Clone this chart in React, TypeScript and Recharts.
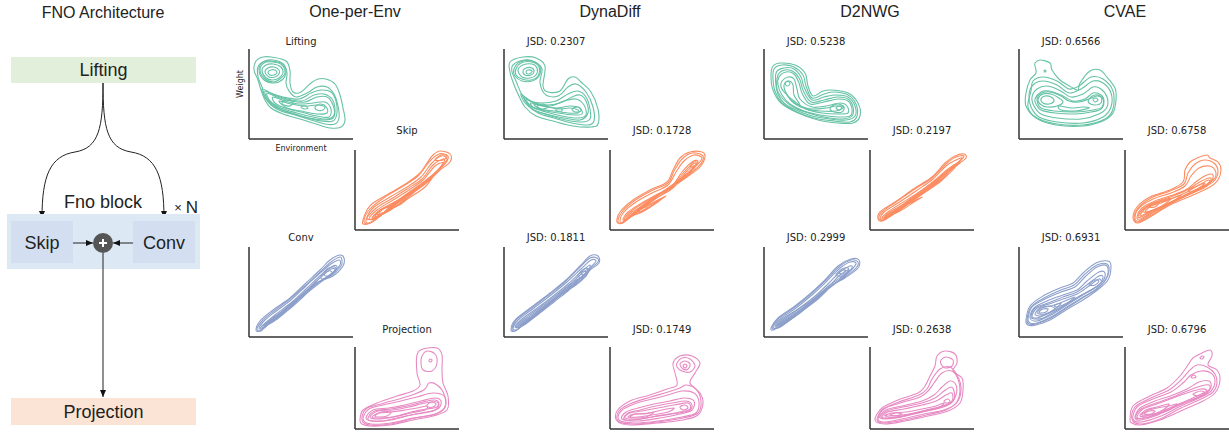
import React from 'react';
import { LineChart, Line, XAxis, YAxis, ReferenceLine } from 'recharts';

type Ring = number[][];

// ---------- text content ----------
const columnTitles = ['One-per-Env', 'DynaDiff', 'D2NWG', 'CVAE'];
const panelNames = ['Lifting', 'Skip', 'Conv', 'Projection'];
const jsdDyna = ['0.2307', '0.1728', '0.1811', '0.1749'];
const jsdD2nwg = ['0.5238', '0.2197', '0.2999', '0.2638'];
const jsdCvae = ['0.6566', '0.6758', '0.6931', '0.6796'];
const panelColors = ['#66c2a5', '#fc8d62', '#8da0cb', '#e78ac3'];

// ---------- contour rings (Environment, Weight) ----------
const oneLifting: Ring[] = [
  [[22,82],[37,78],[41,68],[41,56],[44,47],[52,47],[62,56],[69,60],[77,60],[86,55],[91,44],[94,31],[96,19],[92,12],[81,11],[67,15],[51,20],[34,25],[22,31],[16,39],[12,49],[9,59],[5,69],[7,78],[14,82]],
  [[22,78],[34,75],[38,66],[37,56],[40,48],[47,42],[58,46],[68,52],[78,52],[85,45],[89,33],[90,21],[86,15],[76,15],[62,19],[46,24],[32,28],[22,34],[16,42],[13,52],[9,62],[9,72],[14,77]],
  [[10,70],[14,77],[24,79],[34,75],[37,67],[33,59],[24,56],[14,60]],
  [[11,69],[15,76],[24,77],[33,74],[36,66],[31,60],[24,57],[15,61]],
  [[13,69],[17,74],[24,75],[32,72],[34,66],[30,61],[23,59],[16,62]],
  [[16,67],[19,71],[25,72],[30,69],[30,65],[26,62],[20,62]],
  [[19,67],[22,69],[26,69],[28,66],[25,64],[21,64]],
  [[13,50],[22,46],[34,42],[50,40],[62,46],[72,49],[82,47],[87,38],[88,26],[84,18],[72,18],[56,22],[40,27],[26,32],[17,40]],
  [[16,48],[25,44],[38,40],[53,38],[65,44],[75,45],[83,40],[86,30],[84,21],[74,19],[60,21],[44,25],[29,31],[19,39]],
  [[18,46],[28,42],[42,38],[56,37],[68,42],[78,42],[84,34],[85,24],[78,20],[64,22],[48,26],[32,31],[21,38]],
  [[24,42],[36,38],[50,35],[64,36],[76,37],[82,30],[80,22],[68,23],[52,27],[36,31],[26,36]],
  [[30,38],[42,35],[56,33],[68,34],[77,32],[78,26],[68,25],[52,28],[38,31]],
  [[33,36],[38,39],[44,37],[41,33],[35,34]],
  [[66,32],[71,35],[76,33],[74,29],[68,29]],
  [[52,32],[56,33],[59,31],[55,30]],
];
const oneSkip: Ring[] = [
  [[8,10],[12,20],[18,27],[35,37],[52,47],[65,57],[72,67],[78,75],[85,79],[95,76],[95,68],[85,60],[75,50],[62,40],[42,27],[25,14],[15,7],[8,6]],
  [[9,10],[15,21],[30,33],[50,45],[64,55],[74,68],[84,76],[93,74],[90,66],[80,57],[66,46],[48,33],[32,20],[20,10],[12,6]],
  [[11,10],[18,22],[35,33],[52,43],[66,53],[76,66],[86,74],[92,71],[86,63],[72,50],[56,39],[38,26],[24,13],[14,7]],
  [[12,11],[20,21],[36,31],[52,41],[67,51],[78,65],[88,71],[89,68],[82,59],[70,47],[54,36],[37,24],[23,13]],
  [[14,11],[22,20],[38,30],[54,40],[68,50],[80,64],[88,67],[80,56],[68,45],[52,34],[36,22],[22,12]],
  [[17,12],[25,20],[40,28],[56,37],[70,47],[78,54],[70,43],[54,32],[38,22],[24,14]],
  [[18,13],[26,20],[38,27],[52,35],[64,44],[56,35],[42,25],[28,16]],
  [[20,14],[28,21],[40,26],[52,32],[46,26],[34,20],[25,15]],
  [[22,16],[28,21],[36,24],[40,24],[34,19],[27,16]],
  [[24,17],[29,22],[34,22],[30,18]],
  [[80,70],[86,75],[92,74],[88,70]],
];
const oneConv: Ring[] = [
  [[7,7],[11,16],[24,27],[41,39],[57,54],[71,67],[81,77],[91,82],[95,79],[94,71],[84,61],[71,56],[61,49],[47,37],[31,22],[17,11],[11,6]],
  [[8,8],[13,16],[25,26],[41,38],[57,52],[71,65],[82,75],[91,80],[93,76],[92,71],[83,62],[70,55],[59,47],[45,35],[29,21],[16,10],[12,6]],
  [[10,9],[16,17],[26,25],[42,37],[57,51],[71,64],[82,73],[90,77],[91,72],[82,63],[68,54],[56,45],[42,33],[27,20],[15,9]],
  [[12,10],[26,22],[43,35],[58,49],[72,62],[84,71],[88,70],[84,64],[70,55],[56,44],[40,31],[24,18],[15,10]],
  [[13,11],[27,21],[44,33],[58,47],[72,60],[82,68],[86,67],[80,61],[68,52],[54,41],[38,28],[22,16]],
  [[15,12],[28,22],[44,34],[58,46],[68,56],[60,46],[44,31],[28,19],[18,12]],
  [[16,13],[28,21],[38,28],[48,36],[40,28],[28,18]],
  [[72,60],[78,68],[86,70],[86,65],[80,60],[74,58]],
  [[75,62],[79,66],[83,65],[80,61]],
  [[18,14],[28,21],[38,27],[28,18],[20,13]],
];
const oneProj: Ring[] = [
  [[5,9],[8,19],[22,26],[42,33],[58,38],[65,44],[62,56],[62,74],[68,80],[82,81],[87,74],[87,59],[88,46],[93,33],[92,19],[78,13],[58,9],[35,4],[15,3],[7,5]],
  [[67,73],[72,78],[80,75],[82,66],[77,58],[68,59],[66,66]],
  [[74,68],[75,70],[77,69],[76,67]],
  [[7,9],[11,20],[26,25],[44,30],[60,35],[70,40],[74,46],[82,44],[89,35],[90,22],[80,15],[60,11],[36,5],[15,4]],
  [[8,10],[14,20],[28,24],[46,28],[62,32],[78,36],[90,32],[89,20],[78,14],[58,11],[36,6],[16,5]],
  [[11,11],[18,19],[34,21],[50,24],[66,28],[80,31],[86,28],[84,21],[74,17],[56,14],[36,9],[18,8]],
  [[13,11],[20,18],[36,20],[52,23],[68,27],[80,29],[84,25],[80,19],[66,16],[46,12],[28,8],[16,8]],
  [[15,12],[23,18],[38,19],[54,22],[70,26],[82,27],[82,22],[72,20],[56,17],[38,12],[22,10]],
  [[17,12],[24,16],[36,17],[50,19],[62,21],[72,23],[70,19],[56,16],[38,12],[24,11]],
  [[20,13],[26,17],[36,17],[32,13],[24,12]],
  [[72,24],[77,27],[81,25],[78,22],[73,22]],
];

const dynaLifting: Ring[] = [
  [[6,77],[19,82],[32,81],[41,73],[39,53],[44,47],[56,48],[64,60],[71,62],[77,57],[87,47],[94,30],[94,15],[87,12],[69,13],[49,18],[32,23],[21,32],[14,45],[9,57],[6,67]],
  [[9,74],[20,79],[31,77],[38,70],[36,56],[42,44],[54,43],[64,52],[72,55],[82,47],[89,32],[90,18],[84,14],[68,16],[50,21],[34,26],[24,34],[17,46],[12,58],[8,67]],
  [[10,70],[16,77],[28,78],[36,72],[35,63],[28,58],[18,58],[11,63]],
  [[12,70],[17,76],[28,77],[35,72],[34,63],[27,59],[18,60],[12,64]],
  [[14,69],[19,74],[28,75],[33,71],[32,64],[26,61],[18,62]],
  [[19,68],[22,71],[28,71],[30,67],[27,64],[21,64]],
  [[22,67],[24,69],[28,68],[27,66],[24,65]],
  [[17,45],[26,38],[38,36],[52,38],[64,45],[74,48],[82,42],[86,30],[86,20],[78,17],[62,19],[44,24],[30,29],[21,36]],
  [[20,42],[29,37],[42,34],[56,36],[68,42],[76,44],[82,38],[84,26],[76,19],[60,21],[42,25],[28,30]],
  [[22,40],[32,35],[46,33],[60,38],[72,40],[80,34],[82,24],[74,21],[58,23],[42,27],[28,32]],
  [[27,36],[38,33],[52,31],[66,33],[76,31],[78,25],[70,24],[54,26],[38,29],[29,32]],
  [[30,35],[40,33],[54,30],[66,31],[74,29],[74,26],[64,26],[50,28],[36,30]],
  [[33,33],[39,35],[44,32],[38,30]],
  [[68,30],[74,32],[77,28],[71,27]],
  [[52,30],[57,31],[58,28],[53,28]],
];
const dynaSkip: Ring[] = [
  [[7,8],[10,18],[23,30],[40,40],[57,48],[63,60],[70,72],[80,78],[92,78],[95,73],[90,63],[77,53],[60,43],[40,30],[23,17],[13,8]],
  [[8,8],[12,18],[24,29],[41,39],[58,47],[64,59],[72,71],[82,77],[92,75],[93,70],[88,63],[76,53],[59,42],[40,29],[23,16],[13,7]],
  [[10,9],[14,18],[26,28],[42,37],[58,45],[66,58],[74,69],[84,75],[92,72],[86,64],[74,54],[58,42],[40,28],[24,16],[14,8]],
  [[13,10],[18,18],[30,26],[46,35],[62,44],[72,58],[82,68],[88,69],[82,61],[70,50],[54,39],[36,26],[22,14]],
  [[14,10],[20,18],[32,26],[48,35],[63,44],[74,58],[83,66],[86,66],[80,57],[65,46],[50,36],[33,24],[20,13]],
  [[16,11],[22,18],[34,25],[50,34],[64,43],[76,58],[84,64],[76,53],[60,41],[44,30],[28,19],[19,12]],
  [[20,13],[30,21],[44,28],[56,34],[44,26],[30,18]],
  [[22,15],[30,20],[42,26],[50,30],[42,24],[30,17]],
  [[80,64],[84,68],[88,67],[84,63]],
  [[28,19],[34,23],[38,22],[33,19]],
];
const dynaConv: Ring[] = [
  [[7,7],[11,17],[29,31],[46,44],[62,57],[76,71],[86,81],[94,81],[95,74],[86,67],[82,61],[72,52],[56,42],[36,27],[19,12],[11,6]],
  [[8,8],[12,17],[29,30],[46,43],[62,56],[76,70],[86,79],[93,79],[94,75],[86,68],[81,61],[71,52],[55,41],[35,26],[19,12],[11,6]],
  [[9,9],[14,17],[30,29],[47,42],[63,55],[77,68],[87,77],[92,76],[86,69],[80,62],[70,52],[54,40],[34,25],[19,12],[12,7]],
  [[11,10],[18,18],[32,28],[48,40],[64,53],[78,66],[86,72],[84,66],[76,59],[66,50],[52,38],[34,23],[18,11]],
  [[12,10],[20,18],[34,28],[50,40],[65,52],[76,62],[84,68],[80,62],[70,54],[58,44],[42,31],[26,18],[16,11]],
  [[14,11],[22,18],[36,28],[52,40],[66,52],[74,58],[66,48],[50,35],[32,21],[18,12]],
  [[16,12],[24,18],[34,25],[44,32],[36,25],[24,16]],
  [[74,62],[80,68],[85,68],[82,62],[77,59]],
  [[77,64],[80,66],[82,64],[79,62]],
  [[18,13],[26,19],[36,25],[28,18],[20,12]],
];
const dynaProj: Ring[] = [
  [[7,8],[7,18],[20,28],[40,34],[57,40],[67,44],[65,56],[63,66],[70,73],[82,73],[90,66],[85,56],[80,46],[90,36],[93,26],[88,14],[73,9],[47,6],[20,4]],
  [[67,66],[72,71],[80,70],[85,63],[80,57],[72,58],[67,62]],
  [[70,65],[75,68],[80,65],[78,60],[73,60]],
  [[73,63],[75,65],[77,63],[75,61]],
  [[8,8],[9,18],[22,26],[41,32],[58,37],[70,41],[76,44],[86,40],[91,28],[88,16],[73,11],[47,7],[22,5]],
  [[9,9],[11,18],[24,25],[42,30],[58,34],[72,38],[84,36],[89,27],[86,16],[72,12],[48,8],[24,6]],
  [[12,10],[16,17],[28,21],[44,25],[60,28],[74,31],[84,28],[82,19],[70,15],[50,11],[28,8]],
  [[14,10],[18,16],[30,19],[46,23],[62,26],[76,28],[82,24],[78,18],[62,15],[42,12],[24,9]],
  [[15,11],[20,16],[32,18],[48,21],[64,24],[78,26],[80,20],[70,17],[52,14],[30,10]],
  [[18,12],[24,15],[34,15],[44,17],[36,12],[24,11]],
  [[20,12],[26,15],[40,16],[52,19],[64,21],[58,17],[42,14],[28,12]],
  [[70,22],[75,24],[78,21],[73,19]],
];

const d2Lifting: Ring[] = [
  [[9,73],[17,76],[31,74],[41,66],[44,53],[49,43],[59,48],[67,49],[84,46],[94,36],[96,23],[89,16],[74,16],[54,19],[34,26],[17,36],[9,49],[7,63]],
  [[10,70],[18,74],[30,72],[39,64],[42,53],[48,41],[60,45],[70,47],[84,44],[92,35],[93,23],[86,17],[70,18],[50,21],[33,27],[18,36],[11,48],[9,60]],
  [[12,66],[20,71],[30,70],[37,62],[40,52],[48,39],[60,42],[72,44],[84,42],[91,33],[91,23],[82,19],[66,20],[48,23],[32,29],[20,36],[13,48]],
  [[14,64],[21,69],[30,67],[36,59],[39,49],[47,37],[60,39],[73,42],[84,40],[89,32],[88,23],[78,20],[60,22],[44,26],[29,32],[19,40],[13,50]],
  [[15,62],[22,67],[30,65],[35,56],[38,46],[46,35],[60,37],[74,40],[84,38],[88,30],[86,23],[74,22],[56,24],[40,28],[26,35],[18,44],[14,54]],
  [[18,58],[24,62],[30,60],[33,50],[36,40],[48,32],[62,33],[76,36],[83,33],[84,26],[74,25],[58,26],[42,30],[30,38],[21,46],[17,52]],
  [[22,46],[28,38],[36,33],[48,30],[62,31],[72,33],[80,32],[72,28],[56,28],[42,30],[30,36]],
  [[20,54],[25,58],[29,54],[30,44],[36,34],[30,36],[23,44]],
  [[68,33],[74,35],[80,32],[78,27],[70,27],[66,30]],
  [[72,31],[75,33],[78,31],[75,29]],
  [[21,56],[24,58],[26,55],[23,53]],
];
const d2Skip: Ring[] = [
  [[8,11],[10,18],[25,28],[45,42],[62,53],[75,67],[85,74],[94,76],[96,72],[87,65],[75,57],[58,43],[38,28],[22,15],[12,9]],
  [[9,11],[12,18],[26,28],[45,41],[62,52],[76,66],[86,73],[94,74],[90,69],[80,61],[66,50],[48,37],[30,23],[18,13]],
  [[10,11],[14,18],[28,27],[46,39],[63,51],[76,64],[86,70],[92,72],[85,65],[72,54],[56,41],[38,27],[22,15],[13,10]],
  [[12,12],[18,18],[30,26],[48,37],[64,49],[78,61],[88,67],[82,61],[70,51],[54,39],[36,25],[22,15]],
  [[14,12],[20,18],[32,25],[49,36],[65,47],[78,59],[86,64],[76,54],[62,44],[46,33],[30,21],[20,14]],
  [[15,13],[22,18],[34,25],[50,35],[66,46],[78,56],[70,48],[54,37],[38,26],[24,17]],
  [[18,15],[26,20],[38,26],[30,20],[21,15]],
  [[20,16],[28,21],[40,27],[52,33],[44,28],[30,19]],
  [[80,62],[86,66],[90,68],[86,64]],
  [[22,17],[26,20],[30,20],[26,17]],
];
const d2Conv: Ring[] = [
  [[7,9],[14,19],[31,31],[47,44],[61,57],[74,71],[87,78],[95,77],[94,69],[81,59],[67,51],[51,37],[31,22],[16,11],[9,7]],
  [[8,9],[15,19],[31,30],[47,43],[61,56],[75,70],[87,77],[94,75],[92,69],[81,60],[67,51],[51,37],[31,21],[16,10]],
  [[9,10],[16,18],[32,29],[48,42],[62,55],[75,68],[86,75],[92,73],[82,62],[66,50],[50,36],[31,21],[16,10]],
  [[11,11],[18,18],[34,28],[50,40],[64,53],[76,65],[86,71],[88,69],[80,62],[66,52],[50,38],[32,22],[16,11]],
  [[12,11],[20,18],[35,28],[51,39],[65,51],[76,62],[84,67],[80,61],[68,51],[52,39],[35,26],[20,14]],
  [[13,12],[22,18],[36,27],[52,38],[64,48],[54,38],[38,26],[22,15]],
  [[15,12],[24,18],[34,24],[44,31],[36,24],[24,16]],
  [[72,62],[78,68],[84,69],[84,64],[78,61]],
  [[75,64],[79,67],[82,66],[79,63]],
  [[16,13],[24,18],[32,22],[26,17],[18,12]],
];
const d2Proj: Ring[] = [
  [[5,9],[12,21],[28,29],[48,36],[55,43],[60,53],[65,63],[67,73],[75,78],[85,75],[87,66],[83,58],[92,51],[93,39],[90,26],[78,18],[58,13],[35,8],[15,5]],
  [[71,69],[76,72],[83,69],[82,63],[75,61],[71,65]],
  [[7,9],[13,20],[29,27],[49,34],[57,40],[62,50],[70,60],[80,62],[87,54],[91,42],[88,28],[76,19],[56,14],[34,9],[14,6]],
  [[8,10],[14,20],[30,26],[50,32],[58,38],[64,46],[72,56],[82,58],[88,50],[90,38],[86,26],[74,19],[54,15],[32,10],[14,7]],
  [[10,11],[16,19],[32,23],[52,28],[64,34],[72,42],[80,48],[86,44],[86,34],[80,25],[66,20],[46,16],[26,11]],
  [[11,12],[17,18],[33,22],[52,26],[65,31],[74,38],[81,42],[84,38],[84,30],[76,24],[60,19],[40,14],[22,11]],
  [[12,12],[18,17],[34,20],[52,24],[66,28],[76,34],[82,36],[82,28],[72,23],[52,18],[32,13],[16,11]],
  [[15,13],[22,16],[36,17],[52,20],[66,23],[74,26],[68,21],[50,17],[32,14]],
  [[20,14],[26,16],[32,15],[26,13]],
  [[74,28],[78,30],[80,27],[76,26]],
];

const cvaeLifting: Ring[] = [
  [[16,76],[21,79],[31,76],[33,69],[41,59],[54,51],[59,49],[61,56],[71,68],[81,69],[87,63],[96,51],[97,39],[94,26],[84,18],[64,13],[37,14],[17,21],[7,33],[7,46],[11,59],[17,66],[16,73]],
  [[25,68],[26,69],[27,68],[26,67]],
  [[12,48],[14,58],[24,62],[38,58],[50,50],[60,53],[72,62],[84,60],[94,48],[94,30],[86,20],[64,14],[38,15],[18,21],[9,32]],
  [[10,44],[14,54],[24,58],[38,54],[50,46],[62,50],[74,58],[84,56],[92,46],[92,32],[84,22],[64,16],[38,17],[20,22],[12,32]],
  [[13,42],[18,50],[28,53],[40,49],[52,42],[64,45],[74,52],[82,50],[88,42],[88,32],[80,25],[62,20],[38,21],[22,25],[15,33]],
  [[16,40],[22,47],[30,48],[42,44],[54,38],[66,40],[74,46],[82,44],[85,38],[82,30],[72,27],[56,25],[36,26],[22,29],[17,35]],
  [[18,40],[23,46],[31,47],[42,43],[50,38],[60,37],[70,40],[78,43],[84,40],[83,32],[74,29],[56,27],[36,28],[22,31]],
  [[19,40],[24,45],[32,45],[40,41],[44,37],[38,33],[28,32],[21,35]],
  [[22,40],[26,43],[32,42],[35,38],[30,35],[24,36]],
  [[70,40],[76,44],[82,42],[82,36],[76,34],[70,36]],
  [[74,40],[77,41],[79,39],[76,37]],
  [[40,33],[52,31],[64,32],[70,31],[56,28],[42,29]],
];
const cvaeSkip: Ring[] = [
  [[8,12],[12,23],[25,33],[45,40],[58,48],[60,60],[65,68],[72,72],[82,75],[85,72],[93,68],[96,60],[93,50],[85,43],[68,35],[45,25],[25,13],[13,7]],
  [[9,12],[13,22],[26,32],[45,39],[59,46],[63,57],[70,66],[80,70],[90,66],[93,58],[90,50],[83,45],[67,37],[45,26],[25,14],[13,8]],
  [[10,12],[14,22],[28,31],[46,37],[60,44],[66,54],[74,62],[84,64],[90,60],[90,52],[82,46],[66,38],[46,27],[26,16],[14,9]],
  [[12,13],[17,22],[30,29],[48,35],[62,41],[72,49],[82,55],[88,55],[86,48],[76,42],[60,35],[44,27],[26,17],[15,11]],
  [[13,13],[18,21],[31,28],[48,34],[62,40],[73,47],[84,52],[86,50],[80,44],[66,37],[50,29],[32,21],[18,14]],
  [[15,14],[20,21],[32,27],[48,32],[62,38],[74,45],[84,50],[82,44],[70,38],[56,32],[40,25],[24,18]],
  [[18,18],[24,25],[36,29],[46,32],[40,26],[28,20]],
  [[20,18],[26,24],[36,27],[46,31],[56,35],[48,29],[36,23],[26,19]],
  [[24,23],[29,27],[34,27],[30,23]],
  [[64,40],[72,44],[80,47],[74,42],[66,38]],
];
const cvaeConv: Ring[] = [
  [[7,17],[11,31],[24,41],[41,49],[54,54],[64,64],[77,74],[89,76],[92,71],[89,57],[77,46],[64,37],[47,27],[31,17],[17,12],[9,12]],
  [[8,17],[12,30],[25,39],[42,47],[55,52],[65,62],[78,72],[88,73],[90,66],[86,56],[76,47],[62,38],[46,28],[32,19],[17,13],[10,13]],
  [[9,18],[13,30],[26,38],[42,45],[56,50],[66,60],[78,70],[88,71],[88,60],[78,48],[64,40],[48,30],[32,20],[18,14],[11,14]],
  [[11,19],[15,29],[28,36],[44,42],[58,47],[68,56],[80,65],[86,64],[84,56],[74,48],[62,41],[48,32],[32,22],[18,16]],
  [[12,20],[16,29],[29,34],[44,40],[58,45],[69,53],[80,61],[84,60],[80,52],[68,45],[54,37],[40,28],[24,19],[16,18]],
  [[13,21],[18,29],[30,33],[44,38],[58,43],[70,51],[80,58],[82,54],[74,48],[60,40],[46,32],[30,24],[18,19]],
  [[16,23],[21,29],[30,31],[36,28],[30,24],[21,21]],
  [[18,24],[23,29],[32,31],[42,34],[36,28],[26,23]],
  [[20,25],[24,28],[29,28],[27,25],[22,24]],
  [[70,52],[76,57],[80,56],[76,52]],
  [[36,32],[46,36],[56,40],[48,34],[38,30]],
];
const cvaeProj: Ring[] = [
  [[5,9],[8,23],[25,33],[42,41],[55,53],[63,64],[68,71],[77,76],[85,79],[87,73],[83,64],[92,59],[95,49],[90,36],[78,28],[58,19],[35,9],[15,4],[7,6]],
  [[75,71],[77,73],[79,72],[77,70]],
  [[66,52],[69,54],[71,52],[68,51]],
  [[7,10],[10,22],[26,31],[44,39],[56,49],[64,58],[72,64],[82,62],[90,55],[92,46],[88,37],[76,30],[56,21],[35,10],[15,5]],
  [[8,10],[12,22],[28,30],[46,37],[58,46],[66,54],[76,58],[86,56],[90,48],[86,38],[74,31],[56,23],[36,13],[16,7]],
  [[10,11],[15,21],[30,28],[48,34],[62,40],[74,47],[84,48],[86,42],[80,35],[66,29],[48,21],[30,13],[16,9]],
  [[11,11],[16,20],[31,26],[48,32],[62,38],[76,43],[84,44],[84,39],[72,33],[56,26],[40,19],[24,12]],
  [[12,12],[18,20],[32,25],[48,31],[62,36],[76,40],[82,38],[78,33],[64,28],[46,21],[30,14],[17,11]],
  [[15,13],[21,19],[32,22],[44,25],[38,19],[26,14]],
  [[17,14],[22,18],[32,21],[44,23],[52,25],[44,19],[30,15]],
  [[19,15],[24,18],[30,18],[26,15]],
  [[68,35],[76,38],[80,36],[74,33]],
];

const columnData: Ring[][][] = [
  [oneLifting, oneSkip, oneConv, oneProj],
  [dynaLifting, dynaSkip, dynaConv, dynaProj],
  [d2Lifting, d2Skip, d2Conv, d2Proj],
  [cvaeLifting, cvaeSkip, cvaeConv, cvaeProj],
];

// ---------- layout ----------
const leftAxisX = [249, 504, 764, 1019];
const rightAxisX = [355, 610, 870, 1125];
const rowTop = [49, 150, 247, 347];
const rowH = [90, 80, 90, 82];
const rowTitleY = [42, 131, 238, 330];
const PW = 104;

const subFont = '"DejaVu Sans", sans-serif';
const headFont = '"Liberation Sans", Arial, sans-serif';

// closed Catmull-Rom curve (passes through every read point)
function closedSmooth(context: any) {
  let pts: number[][] = [];
  return {
    areaStart() {},
    areaEnd() {},
    lineStart() { pts = []; },
    point(x: number, y: number) { pts.push([+x, +y]); },
    lineEnd() {
      const n = pts.length;
      if (!n) return;
      context.moveTo(pts[0][0], pts[0][1]);
      const t = 1 / 6;
      for (let i = 0; i < n; i++) {
        const p0 = pts[(i - 1 + n) % n], p1 = pts[i], p2 = pts[(i + 1) % n], p3 = pts[(i + 2) % n];
        context.bezierCurveTo(
          p1[0] + (p2[0] - p0[0]) * t, p1[1] + (p2[1] - p0[1]) * t,
          p2[0] - (p3[0] - p1[0]) * t, p2[1] - (p3[1] - p1[1]) * t,
          p2[0], p2[1]);
      }
      context.closePath();
    },
  };
}

function Panel({ x, top, h, rings, color, title, titleY, labels }: any) {
  return (
    <>
      <div style={{ position: 'absolute', left: x - 2, top: top - 2 }}>
        <LineChart width={PW + 4} height={h + 4} margin={{ top: 2, right: 2, bottom: 2, left: 2 }}>
          <XAxis type="number" dataKey="x" domain={[0, PW]} allowDataOverflow hide />
          <YAxis type="number" domain={[0, h]} allowDataOverflow hide />
          {rings.map((r: Ring, i: number) => (
            <Line key={i} data={r.map(([px, py]) => ({ x: px, y: py }))} dataKey="y" type={closedSmooth as any}
              stroke={color} strokeWidth={1.1} dot={false} activeDot={false} isAnimationActive={false} />
          ))}
          <ReferenceLine x={0} stroke="#333" strokeWidth={1.5} ifOverflow="visible" />
          <ReferenceLine y={0} stroke="#333" strokeWidth={1.5} ifOverflow="visible" />
        </LineChart>
      </div>
      <div style={{ position: 'absolute', left: x + PW / 2, top: titleY, transform: 'translate(-50%,-50%)',
        fontFamily: subFont, fontSize: 10, color: '#222', whiteSpace: 'nowrap', lineHeight: '12px' }}>{title}</div>
      {labels && (
        <>
          <div style={{ position: 'absolute', left: x + PW / 2, top: top + h + 9, transform: 'translate(-50%,-50%)',
            fontFamily: subFont, fontSize: 8, color: '#222', whiteSpace: 'nowrap' }}>Environment</div>
          <div style={{ position: 'absolute', left: x - 9, top: top + h / 2 - 10, transform: 'translate(-50%,-50%) rotate(-90deg)',
            fontFamily: subFont, fontSize: 8, color: '#222', whiteSpace: 'nowrap' }}>Weight</div>
        </>
      )}
    </>
  );
}

function Diagram() {
  return (
    <svg width={210} height={432} style={{ position: 'absolute', left: 0, top: 0 }}>
      <defs>
        <marker id="ah" markerWidth="7" markerHeight="6" refX="7" refY="3" orient="auto" markerUnits="userSpaceOnUse">
          <path d="M0,0 L7,3 L0,6 z" fill="#111" />
        </marker>
      </defs>
      <text x={103} y={18} textAnchor="middle" fontFamily={headFont} fontSize={16} fill="#222">FNO Architecture</text>
      <rect x={11} y={57} width={185} height={26} fill="#e2efda" />
      <text x={103.5} y={76} textAnchor="middle" fontFamily={headFont} fontSize={18} fill="#222">Lifting</text>
      <path d="M103,83 C103,128 99,148 75,152 C50,156 42,176 42,218" fill="none" stroke="#222" strokeWidth={1} markerEnd="url(#ah)" />
      <path d="M103,83 C103,128 107,148 131,152 C156,156 164,176 164,218" fill="none" stroke="#222" strokeWidth={1} markerEnd="url(#ah)" />
      <text x={103} y={208} textAnchor="middle" fontFamily={headFont} fontSize={18} fill="#222">Fno block</text>
      <text x={178} y={212} textAnchor="middle" fontFamily={headFont} fontSize={13} fill="#222">×</text>
      <text x={192} y={213} textAnchor="middle" fontFamily={headFont} fontSize={17} fill="#222">N</text>
      <rect x={7} y={214} width={193} height={55} fill="#dde8f5" />
      <rect x={11} y={221} width={62} height={42} fill="#d3dff1" />
      <rect x={133} y={221} width={62} height={42} fill="#d3dff1" />
      <text x={42} y={249} textAnchor="middle" fontFamily={headFont} fontSize={18} fill="#222">Skip</text>
      <text x={164} y={249} textAnchor="middle" fontFamily={headFont} fontSize={18} fill="#222">Conv</text>
      <line x1={73} y1={243} x2={93} y2={243} stroke="#222" strokeWidth={1} markerEnd="url(#ah)" />
      <line x1={133} y1={243} x2={113} y2={243} stroke="#222" strokeWidth={1} markerEnd="url(#ah)" />
      <line x1={103} y1={253} x2={103} y2={397} stroke="#222" strokeWidth={1} markerEnd="url(#ah)" />
      <circle cx={103} cy={243} r={10} fill="#555" />
      <line x1={99} y1={243} x2={107} y2={243} stroke="#fff" strokeWidth={2} />
      <line x1={103} y1={239} x2={103} y2={247} stroke="#fff" strokeWidth={2} />
      <rect x={11} y={398} width={185} height={27} fill="#fbe4d6" />
      <text x={103.5} y={418} textAnchor="middle" fontFamily={headFont} fontSize={18} fill="#222">Projection</text>
    </svg>
  );
}

export default function App() {
  const titleFor = (c: number, r: number) => {
    if (c === 0) return panelNames[r];
    const arr = c === 1 ? jsdDyna : c === 2 ? jsdD2nwg : jsdCvae;
    return `JSD: ${arr[r]}`;
  };
  return (
    <div style={{ position: 'absolute', left: 0, top: 0, width: 1229, height: 432, background: '#fff', overflow: 'hidden' }}>
      <Diagram />
      {columnTitles.map((t, c) => (
        <div key={t} style={{ position: 'absolute', left: rightAxisX[c], top: 12, transform: 'translate(-50%,-50%)',
          fontFamily: headFont, fontSize: 16, color: '#222', whiteSpace: 'nowrap' }}>{t}</div>
      ))}
      {columnData.map((plots, c) =>
        plots.map((rings, r) => (
          <Panel key={`${c}-${r}`} x={r % 2 === 0 ? leftAxisX[c] : rightAxisX[c]} top={rowTop[r]} h={rowH[r]}
            rings={rings} color={panelColors[r]} title={titleFor(c, r)} titleY={rowTitleY[r]}
            labels={c === 0 && r === 0} />
        ))
      )}
    </div>
  );
}
